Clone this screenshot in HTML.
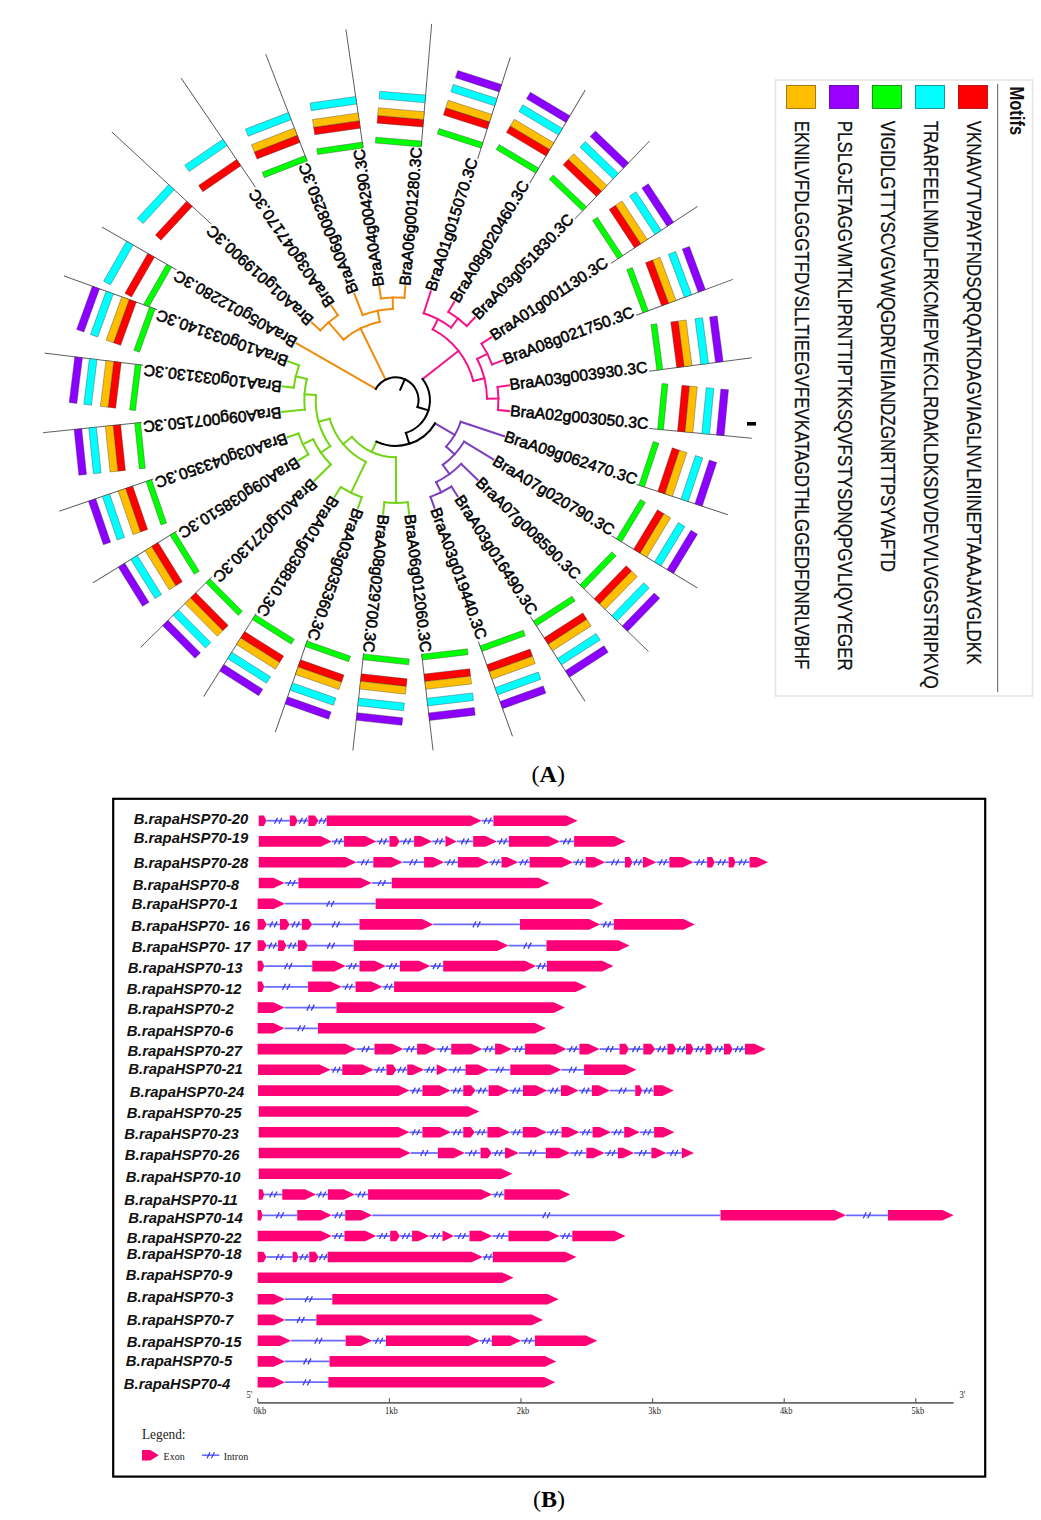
<!DOCTYPE html>
<html><head><meta charset="utf-8"><style>html,body{margin:0;padding:0;background:#fff;}svg{display:block;}</style></head><body>
<svg width="1041" height="1520" viewBox="0 0 1041 1520">
<style>
.lb{font-family:"Liberation Sans",sans-serif;font-size:15.8px;fill:#000;stroke:#000;stroke-width:0.55px;}
.ln{stroke:#555;stroke-width:0.9;}
.bx{stroke:#333;stroke-width:0.5;stroke-opacity:0.7;}
.lgt{font-family:"Liberation Sans",sans-serif;font-size:21px;font-weight:bold;fill:#111;}
.lgx{font-family:"Liberation Sans",sans-serif;font-size:20.8px;fill:#111;stroke:#111;stroke-width:0.25px;}
.tr line,.tr path{stroke-width:2;stroke-linecap:square;}
</style>
<rect width="1041" height="1520" fill="#fff"/>
<g class="tr"><line x1="375.89" y1="388.84" x2="296.64" y2="343.38" stroke="#f08c0c"/><line x1="385.65" y1="379.69" x2="360.54" y2="328.41" stroke="#f08c0c"/><path d="M343.53,339.63 A79.94,79.94 0 0 1 379.82,321.85" stroke="#f08c0c" fill="none"/><line x1="343.53" y1="339.63" x2="328.63" y2="322.32" stroke="#f08c0c"/><path d="M320.28,330.38 A102.78,102.78 0 0 1 337.84,315.25" stroke="#f08c0c" fill="none"/><line x1="320.28" y1="330.38" x2="311.89" y2="322.62" stroke="#f08c0c"/><line x1="337.84" y1="315.25" x2="331.41" y2="305.81" stroke="#f08c0c"/><line x1="379.82" y1="321.85" x2="377.55" y2="310.66" stroke="#f08c0c"/><path d="M362.65,315.03 A91.36,91.36 0 0 1 392.98,308.88" stroke="#f08c0c" fill="none"/><line x1="362.65" y1="315.03" x2="354.38" y2="293.74" stroke="#f08c0c"/><line x1="392.98" y1="308.88" x2="392.64" y2="297.47" stroke="#f08c0c"/><path d="M380.93,298.49 A102.78,102.78 0 0 1 404.39,297.79" stroke="#f08c0c" fill="none"/><line x1="380.93" y1="298.49" x2="379.29" y2="287.18" stroke="#f08c0c"/><line x1="404.39" y1="297.79" x2="405.36" y2="286.41" stroke="#f08c0c"/><line x1="422.63" y1="379.03" x2="458.54" y2="350.79" stroke="#f5158a"/><path d="M432.70,329.34 A79.94,79.94 0 0 1 473.29,380.97" stroke="#f5158a" fill="none"/><line x1="432.70" y1="329.34" x2="437.98" y2="319.21" stroke="#f5158a"/><path d="M423.70,313.24 A91.36,91.36 0 0 1 451.04,327.51" stroke="#f5158a" fill="none"/><line x1="423.70" y1="313.24" x2="430.71" y2="291.50" stroke="#f5158a"/><line x1="451.04" y1="327.51" x2="457.96" y2="318.42" stroke="#f5158a"/><path d="M448.33,311.92 A102.78,102.78 0 0 1 466.80,325.98" stroke="#f5158a" fill="none"/><line x1="448.33" y1="311.92" x2="454.18" y2="302.11" stroke="#f5158a"/><line x1="466.80" y1="325.98" x2="474.70" y2="317.73" stroke="#f5158a"/><line x1="473.29" y1="380.97" x2="484.38" y2="378.23" stroke="#f5158a"/><path d="M477.21,358.94 A91.36,91.36 0 0 1 487.05,398.63" stroke="#f5158a" fill="none"/><line x1="477.21" y1="358.94" x2="487.40" y2="353.78" stroke="#f5158a"/><path d="M481.56,343.71 A102.78,102.78 0 0 1 492.06,364.44" stroke="#f5158a" fill="none"/><line x1="481.56" y1="343.71" x2="491.11" y2="337.43" stroke="#f5158a"/><line x1="492.06" y1="364.44" x2="502.77" y2="360.47" stroke="#f5158a"/><line x1="487.05" y1="398.63" x2="498.46" y2="398.43" stroke="#f5158a"/><path d="M497.62,386.91 A102.78,102.78 0 0 1 498.01,409.98" stroke="#f5158a" fill="none"/><line x1="497.62" y1="386.91" x2="508.94" y2="385.43" stroke="#f5158a"/><line x1="498.01" y1="409.98" x2="509.38" y2="411.07" stroke="#f5158a"/><line x1="435.07" y1="423.37" x2="454.75" y2="434.96" stroke="#7a3fbd"/><path d="M460.73,421.79 A68.52,68.52 0 0 1 446.15,446.57" stroke="#7a3fbd" fill="none"/><line x1="460.73" y1="421.79" x2="504.08" y2="436.19" stroke="#7a3fbd"/><line x1="446.15" y1="446.57" x2="454.55" y2="454.30" stroke="#7a3fbd"/><path d="M464.05,441.66 A79.94,79.94 0 0 1 442.76,464.82" stroke="#7a3fbd" fill="none"/><line x1="464.05" y1="441.66" x2="493.34" y2="459.43" stroke="#7a3fbd"/><line x1="442.76" y1="464.82" x2="449.48" y2="474.06" stroke="#7a3fbd"/><path d="M461.21,463.88 A91.36,91.36 0 0 1 436.19,482.10" stroke="#7a3fbd" fill="none"/><line x1="461.21" y1="463.88" x2="477.59" y2="479.80" stroke="#7a3fbd"/><line x1="436.19" y1="482.10" x2="441.25" y2="492.33" stroke="#7a3fbd"/><path d="M451.39,486.58 A102.78,102.78 0 0 1 430.53,496.90" stroke="#7a3fbd" fill="none"/><line x1="451.39" y1="486.58" x2="457.58" y2="496.18" stroke="#7a3fbd"/><line x1="430.53" y1="496.90" x2="434.40" y2="507.64" stroke="#7a3fbd"/><line x1="376.44" y1="441.62" x2="371.63" y2="451.98" stroke="#72d414"/><path d="M395.91,457.30 A57.10,57.10 0 0 1 351.91,436.85" stroke="#72d414" fill="none"/><line x1="395.91" y1="457.30" x2="396.08" y2="502.98" stroke="#72d414"/><path d="M407.76,502.27 A102.78,102.78 0 0 1 384.39,502.36" stroke="#72d414" fill="none"/><line x1="407.76" y1="502.27" x2="409.10" y2="513.61" stroke="#72d414"/><line x1="384.39" y1="502.36" x2="383.13" y2="513.71" stroke="#72d414"/><line x1="351.91" y1="436.85" x2="343.15" y2="444.18" stroke="#72d414"/><path d="M365.89,461.90 A68.52,68.52 0 0 1 329.72,418.67" stroke="#72d414" fill="none"/><line x1="365.89" y1="461.90" x2="350.98" y2="492.74" stroke="#72d414"/><path d="M361.75,497.21 A102.78,102.78 0 0 1 340.79,487.09" stroke="#72d414" fill="none"/><line x1="361.75" y1="497.21" x2="357.97" y2="507.99" stroke="#72d414"/><line x1="340.79" y1="487.09" x2="334.69" y2="496.74" stroke="#72d414"/><line x1="329.72" y1="418.67" x2="318.72" y2="421.75" stroke="#72d414"/><path d="M330.26,446.11 A79.94,79.94 0 0 1 315.93,394.95" stroke="#72d414" fill="none"/><line x1="330.26" y1="446.11" x2="320.91" y2="452.66" stroke="#72d414"/><path d="M330.83,464.53 A91.36,91.36 0 0 1 313.13,439.29" stroke="#72d414" fill="none"/><line x1="330.83" y1="464.53" x2="314.61" y2="480.61" stroke="#72d414"/><line x1="313.13" y1="439.29" x2="302.81" y2="444.18" stroke="#72d414"/><path d="M308.31,454.30 A102.78,102.78 0 0 1 298.47,433.51" stroke="#72d414" fill="none"/><line x1="308.31" y1="454.30" x2="298.60" y2="460.31" stroke="#72d414"/><line x1="298.47" y1="433.51" x2="287.66" y2="437.21" stroke="#72d414"/><line x1="315.93" y1="394.95" x2="304.54" y2="394.20" stroke="#72d414"/><path d="M304.83,409.61 A91.36,91.36 0 0 1 306.84,378.97" stroke="#72d414" fill="none"/><line x1="304.83" y1="409.61" x2="282.11" y2="411.96" stroke="#72d414"/><line x1="306.84" y1="378.97" x2="295.73" y2="376.31" stroke="#72d414"/><path d="M293.68,387.69 A102.78,102.78 0 0 1 299.05,365.23" stroke="#72d414" fill="none"/><line x1="293.68" y1="387.69" x2="282.35" y2="386.30" stroke="#72d414"/><line x1="299.05" y1="365.23" x2="288.31" y2="361.35" stroke="#72d414"/><line x1="400.26" y1="389.73" x2="404.83" y2="379.26" stroke="#000"/><path d="M375.89,388.84 A22.84,22.84 0 0 1 417.51,406.98" stroke="#000" fill="none"/><line x1="417.51" y1="406.98" x2="428.42" y2="410.37" stroke="#000"/><path d="M422.63,379.03 A34.26,34.26 0 0 1 405.88,432.91" stroke="#000" fill="none"/><line x1="405.88" y1="432.91" x2="409.28" y2="443.81" stroke="#000"/><path d="M435.07,423.37 A45.68,45.68 0 0 1 376.44,441.62" stroke="#000" fill="none"/></g>
<g transform="translate(395.7,400.2) rotate(-85.15)"><text x="115.0" y="4.8" class="lb">BraA06g001280.3C</text><line x1="255.0" y1="4.0" x2="378.0" y2="4.0" class="ln"/><rect x="254.50" y="-42.00" width="5.90" height="46.0" fill="#00ff00" class="bx"/><rect x="274.50" y="-42.00" width="7.60" height="46.0" fill="#ff0000" class="bx"/><rect x="282.10" y="-42.00" width="7.80" height="46.0" fill="#ffbf00" class="bx"/><rect x="298.90" y="-42.00" width="7.70" height="46.0" fill="#00ffff" class="bx"/></g><g transform="translate(395.7,400.2) rotate(-72.15)"><text x="115.0" y="4.8" class="lb">BraA01g015070.3C</text><line x1="255.0" y1="4.0" x2="361.4" y2="4.0" class="ln"/><rect x="266.10" y="-42.00" width="5.90" height="46.0" fill="#00ff00" class="bx"/><rect x="286.10" y="-42.00" width="7.60" height="46.0" fill="#ff0000" class="bx"/><rect x="293.70" y="-42.00" width="7.80" height="46.0" fill="#ffbf00" class="bx"/><rect x="310.50" y="-42.00" width="7.70" height="46.0" fill="#00ffff" class="bx"/><rect x="325.20" y="-42.00" width="7.70" height="46.0" fill="#8c00ff" class="bx"/></g><g transform="translate(395.7,400.2) rotate(-59.20)"><text x="115.0" y="4.8" class="lb">BraA08g020460.3C</text><line x1="255.0" y1="4.0" x2="363.5" y2="4.0" class="ln"/><rect x="266.70" y="-42.00" width="5.90" height="46.0" fill="#00ff00" class="bx"/><rect x="286.70" y="-42.00" width="7.60" height="46.0" fill="#ff0000" class="bx"/><rect x="294.30" y="-42.00" width="7.80" height="46.0" fill="#ffbf00" class="bx"/><rect x="311.10" y="-42.00" width="7.70" height="46.0" fill="#00ffff" class="bx"/><rect x="325.80" y="-42.00" width="7.70" height="46.0" fill="#8c00ff" class="bx"/></g><g transform="translate(395.7,400.2) rotate(-46.23)"><text x="115.0" y="4.8" class="lb">BraA03g051830.3C</text><line x1="255.0" y1="4.0" x2="362.9" y2="4.0" class="ln"/><rect x="265.80" y="-42.00" width="5.90" height="46.0" fill="#00ff00" class="bx"/><rect x="285.80" y="-42.00" width="7.60" height="46.0" fill="#ff0000" class="bx"/><rect x="293.40" y="-42.00" width="7.80" height="46.0" fill="#ffbf00" class="bx"/><rect x="310.20" y="-42.00" width="7.70" height="46.0" fill="#00ffff" class="bx"/><rect x="324.90" y="-42.00" width="7.70" height="46.0" fill="#8c00ff" class="bx"/></g><g transform="translate(395.7,400.2) rotate(-33.34)"><text x="115.0" y="4.8" class="lb">BraA01g001130.3C</text><line x1="255.0" y1="4.0" x2="358.7" y2="4.0" class="ln"/><rect x="263.20" y="-42.00" width="5.90" height="46.0" fill="#00ff00" class="bx"/><rect x="283.20" y="-42.00" width="7.60" height="46.0" fill="#ff0000" class="bx"/><rect x="290.80" y="-42.00" width="7.80" height="46.0" fill="#ffbf00" class="bx"/><rect x="307.60" y="-42.00" width="7.70" height="46.0" fill="#00ffff" class="bx"/><rect x="322.30" y="-42.00" width="7.70" height="46.0" fill="#8c00ff" class="bx"/></g><g transform="translate(395.7,400.2) rotate(-20.36)"><text x="115.0" y="4.8" class="lb">BraA08g021750.3C</text><line x1="255.0" y1="4.0" x2="358.2" y2="4.0" class="ln"/><rect x="262.10" y="-42.00" width="5.90" height="46.0" fill="#00ff00" class="bx"/><rect x="282.10" y="-42.00" width="7.60" height="46.0" fill="#ff0000" class="bx"/><rect x="289.70" y="-42.00" width="7.80" height="46.0" fill="#ffbf00" class="bx"/><rect x="306.50" y="-42.00" width="7.70" height="46.0" fill="#00ffff" class="bx"/><rect x="321.20" y="-42.00" width="7.70" height="46.0" fill="#8c00ff" class="bx"/></g><g transform="translate(395.7,400.2) rotate(-7.43)"><text x="115.0" y="4.8" class="lb">BraA03g003930.3C</text><line x1="255.0" y1="4.0" x2="358.5" y2="4.0" class="ln"/><rect x="262.90" y="-42.00" width="5.90" height="46.0" fill="#00ff00" class="bx"/><rect x="282.90" y="-42.00" width="7.60" height="46.0" fill="#ff0000" class="bx"/><rect x="290.50" y="-42.00" width="7.80" height="46.0" fill="#ffbf00" class="bx"/><rect x="307.30" y="-42.00" width="7.70" height="46.0" fill="#00ffff" class="bx"/><rect x="322.00" y="-42.00" width="7.70" height="46.0" fill="#8c00ff" class="bx"/></g><g transform="translate(395.7,400.2) rotate(5.46)"><text x="115.0" y="4.8" class="lb">BraA02g003050.3C</text><line x1="255.0" y1="4.0" x2="358.1" y2="4.0" class="ln"/><rect x="263.50" y="-42.00" width="5.90" height="46.0" fill="#00ff00" class="bx"/><rect x="283.50" y="-42.00" width="7.60" height="46.0" fill="#ff0000" class="bx"/><rect x="291.10" y="-42.00" width="7.80" height="46.0" fill="#ffbf00" class="bx"/><rect x="307.90" y="-42.00" width="7.70" height="46.0" fill="#00ffff" class="bx"/><rect x="322.60" y="-42.00" width="7.70" height="46.0" fill="#8c00ff" class="bx"/></g><g transform="translate(395.7,400.2) rotate(18.37)"><text x="115.0" y="4.8" class="lb">BraA09g062470.3C</text><line x1="255.0" y1="4.0" x2="351.5" y2="4.0" class="ln"/><rect x="257.50" y="-42.00" width="5.90" height="46.0" fill="#00ff00" class="bx"/><rect x="277.50" y="-42.00" width="7.60" height="46.0" fill="#ff0000" class="bx"/><rect x="285.10" y="-42.00" width="7.80" height="46.0" fill="#ffbf00" class="bx"/><rect x="301.90" y="-42.00" width="7.70" height="46.0" fill="#00ffff" class="bx"/><rect x="316.60" y="-42.00" width="7.70" height="46.0" fill="#8c00ff" class="bx"/></g><g transform="translate(395.7,400.2) rotate(31.24)"><text x="115.0" y="4.8" class="lb">BraA07g020790.3C</text><line x1="255.0" y1="4.0" x2="355.1" y2="4.0" class="ln"/><rect x="260.70" y="-42.00" width="5.90" height="46.0" fill="#00ff00" class="bx"/><rect x="280.70" y="-42.00" width="7.60" height="46.0" fill="#ff0000" class="bx"/><rect x="288.30" y="-42.00" width="7.80" height="46.0" fill="#ffbf00" class="bx"/><rect x="305.10" y="-42.00" width="7.70" height="46.0" fill="#00ffff" class="bx"/><rect x="319.80" y="-42.00" width="7.70" height="46.0" fill="#8c00ff" class="bx"/></g><g transform="translate(395.7,400.2) rotate(44.19)"><text x="115.0" y="4.8" class="lb">BraA07g008590.3C</text><line x1="255.0" y1="4.0" x2="356.4" y2="4.0" class="ln"/><rect x="260.70" y="-42.00" width="5.90" height="46.0" fill="#00ff00" class="bx"/><rect x="280.70" y="-42.00" width="7.60" height="46.0" fill="#ff0000" class="bx"/><rect x="288.30" y="-42.00" width="7.80" height="46.0" fill="#ffbf00" class="bx"/><rect x="305.10" y="-42.00" width="7.70" height="46.0" fill="#00ffff" class="bx"/><rect x="319.80" y="-42.00" width="7.70" height="46.0" fill="#8c00ff" class="bx"/></g><g transform="translate(395.7,400.2) rotate(57.19)"><text x="115.0" y="4.8" class="lb">BraA03g016490.3C</text><line x1="255.0" y1="4.0" x2="355.6" y2="4.0" class="ln"/><rect x="260.20" y="-42.00" width="5.90" height="46.0" fill="#00ff00" class="bx"/><rect x="280.20" y="-42.00" width="7.60" height="46.0" fill="#ff0000" class="bx"/><rect x="287.80" y="-42.00" width="7.80" height="46.0" fill="#ffbf00" class="bx"/><rect x="304.60" y="-42.00" width="7.70" height="46.0" fill="#00ffff" class="bx"/><rect x="319.30" y="-42.00" width="7.70" height="46.0" fill="#8c00ff" class="bx"/></g><g transform="translate(395.7,400.2) rotate(70.19)"><text x="115.0" y="4.8" class="lb">BraA03g019440.3C</text><line x1="255.0" y1="4.0" x2="355.8" y2="4.0" class="ln"/><rect x="259.70" y="-42.00" width="5.90" height="46.0" fill="#00ff00" class="bx"/><rect x="279.70" y="-42.00" width="7.60" height="46.0" fill="#ff0000" class="bx"/><rect x="287.30" y="-42.00" width="7.80" height="46.0" fill="#ffbf00" class="bx"/><rect x="304.10" y="-42.00" width="7.70" height="46.0" fill="#00ffff" class="bx"/><rect x="318.80" y="-42.00" width="7.70" height="46.0" fill="#8c00ff" class="bx"/></g><g transform="translate(395.7,400.2) rotate(83.26)"><text x="115.0" y="4.8" class="lb">BraA06g012060.3C</text><line x1="255.0" y1="4.0" x2="352.0" y2="4.0" class="ln"/><rect x="255.30" y="-42.00" width="5.90" height="46.0" fill="#00ff00" class="bx"/><rect x="275.30" y="-42.00" width="7.60" height="46.0" fill="#ff0000" class="bx"/><rect x="282.90" y="-42.00" width="7.80" height="46.0" fill="#ffbf00" class="bx"/><rect x="299.70" y="-42.00" width="7.70" height="46.0" fill="#00ffff" class="bx"/><rect x="314.40" y="-42.00" width="7.70" height="46.0" fill="#8c00ff" class="bx"/></g><g transform="translate(395.7,400.2) rotate(96.32)"><text x="115.0" y="4.8" class="lb">BraA08g029700.3C</text><line x1="255.0" y1="4.0" x2="352.9" y2="4.0" class="ln"/><rect x="255.70" y="-42.00" width="5.90" height="46.0" fill="#00ff00" class="bx"/><rect x="275.70" y="-42.00" width="7.60" height="46.0" fill="#ff0000" class="bx"/><rect x="283.30" y="-42.00" width="7.80" height="46.0" fill="#ffbf00" class="bx"/><rect x="300.10" y="-42.00" width="7.70" height="46.0" fill="#00ffff" class="bx"/><rect x="314.80" y="-42.00" width="7.70" height="46.0" fill="#8c00ff" class="bx"/></g><g transform="translate(395.7,400.2) rotate(109.29)"><text x="115.0" y="4.8" class="lb">BraA03g035360.3C</text><line x1="255.0" y1="4.0" x2="352.9" y2="4.0" class="ln"/><rect x="256.50" y="-42.00" width="5.90" height="46.0" fill="#00ff00" class="bx"/><rect x="276.50" y="-42.00" width="7.60" height="46.0" fill="#ff0000" class="bx"/><rect x="284.10" y="-42.00" width="7.80" height="46.0" fill="#ffbf00" class="bx"/><rect x="300.90" y="-42.00" width="7.70" height="46.0" fill="#00ffff" class="bx"/><rect x="315.60" y="-42.00" width="7.70" height="46.0" fill="#8c00ff" class="bx"/></g><g transform="translate(395.7,400.2) rotate(122.29)"><text x="115.0" y="4.8" class="lb">BraA01g038810.3C</text><line x1="255.0" y1="4.0" x2="353.1" y2="4.0" class="ln"/><rect x="256.20" y="-42.00" width="5.90" height="46.0" fill="#00ff00" class="bx"/><rect x="276.20" y="-42.00" width="7.60" height="46.0" fill="#ff0000" class="bx"/><rect x="283.80" y="-42.00" width="7.80" height="46.0" fill="#ffbf00" class="bx"/><rect x="300.60" y="-42.00" width="7.70" height="46.0" fill="#00ffff" class="bx"/><rect x="315.30" y="-42.00" width="7.70" height="46.0" fill="#8c00ff" class="bx"/></g><g transform="translate(395.7,400.2) rotate(135.24)"><text x="115.0" y="4.8" class="lb">BraA01g027130.3C</text><line x1="255.0" y1="4.0" x2="355.1" y2="4.0" class="ln"/><rect x="257.50" y="-42.00" width="5.90" height="46.0" fill="#00ff00" class="bx"/><rect x="277.50" y="-42.00" width="7.60" height="46.0" fill="#ff0000" class="bx"/><rect x="285.10" y="-42.00" width="7.80" height="46.0" fill="#ffbf00" class="bx"/><rect x="301.90" y="-42.00" width="7.70" height="46.0" fill="#00ffff" class="bx"/><rect x="316.60" y="-42.00" width="7.70" height="46.0" fill="#8c00ff" class="bx"/></g><g transform="translate(395.7,400.2) rotate(148.24)"><text x="115.0" y="4.8" class="lb">BraA09g038510.3C</text><line x1="255.0" y1="4.0" x2="353.7" y2="4.0" class="ln"/><rect x="257.00" y="-42.00" width="5.90" height="46.0" fill="#00ff00" class="bx"/><rect x="277.00" y="-42.00" width="7.60" height="46.0" fill="#ff0000" class="bx"/><rect x="284.60" y="-42.00" width="7.80" height="46.0" fill="#ffbf00" class="bx"/><rect x="301.40" y="-42.00" width="7.70" height="46.0" fill="#00ffff" class="bx"/><rect x="316.10" y="-42.00" width="7.70" height="46.0" fill="#8c00ff" class="bx"/></g><g transform="translate(395.7,400.2) rotate(161.09)"><text x="115.0" y="4.8" class="lb">BraA03g043350.3C</text><line x1="255.0" y1="4.0" x2="354.1" y2="4.0" class="ln"/><rect x="256.60" y="-42.00" width="5.90" height="46.0" fill="#00ff00" class="bx"/><rect x="276.60" y="-42.00" width="7.60" height="46.0" fill="#ff0000" class="bx"/><rect x="284.20" y="-42.00" width="7.80" height="46.0" fill="#ffbf00" class="bx"/><rect x="301.00" y="-42.00" width="7.70" height="46.0" fill="#00ffff" class="bx"/><rect x="315.70" y="-42.00" width="7.70" height="46.0" fill="#8c00ff" class="bx"/></g><g transform="translate(395.7,400.2) rotate(174.09)"><text x="115.0" y="4.8" class="lb">BraA09g007150.3C</text><line x1="255.0" y1="4.0" x2="354.1" y2="4.0" class="ln"/><rect x="256.10" y="-42.00" width="5.90" height="46.0" fill="#00ff00" class="bx"/><rect x="276.10" y="-42.00" width="7.60" height="46.0" fill="#ff0000" class="bx"/><rect x="283.70" y="-42.00" width="7.80" height="46.0" fill="#ffbf00" class="bx"/><rect x="300.50" y="-42.00" width="7.70" height="46.0" fill="#00ffff" class="bx"/><rect x="315.20" y="-42.00" width="7.70" height="46.0" fill="#8c00ff" class="bx"/></g><g transform="translate(395.7,400.2) rotate(186.99)"><text x="115.0" y="4.8" class="lb">BraA10g033130.3C</text><line x1="255.0" y1="4.0" x2="354.2" y2="4.0" class="ln"/><rect x="257.00" y="-42.00" width="5.90" height="46.0" fill="#00ff00" class="bx"/><rect x="277.00" y="-42.00" width="7.60" height="46.0" fill="#ff0000" class="bx"/><rect x="284.60" y="-42.00" width="7.80" height="46.0" fill="#ffbf00" class="bx"/><rect x="301.40" y="-42.00" width="7.70" height="46.0" fill="#00ffff" class="bx"/><rect x="316.10" y="-42.00" width="7.70" height="46.0" fill="#8c00ff" class="bx"/></g><g transform="translate(395.7,400.2) rotate(199.89)"><text x="115.0" y="4.8" class="lb">BraA10g033140.3C</text><line x1="255.0" y1="4.0" x2="354.2" y2="4.0" class="ln"/><rect x="257.30" y="-42.00" width="5.90" height="46.0" fill="#00ff00" class="bx"/><rect x="277.30" y="-42.00" width="7.60" height="46.0" fill="#ff0000" class="bx"/><rect x="284.90" y="-42.00" width="7.80" height="46.0" fill="#ffbf00" class="bx"/><rect x="301.70" y="-42.00" width="7.70" height="46.0" fill="#00ffff" class="bx"/><rect x="316.40" y="-42.00" width="7.70" height="46.0" fill="#8c00ff" class="bx"/></g><g transform="translate(395.7,400.2) rotate(209.84)"><text x="115.0" y="4.8" class="lb">BraA05g012280.3C</text><line x1="255.0" y1="4.0" x2="340.8" y2="4.0" class="ln"/><rect x="260.50" y="-42.00" width="5.90" height="46.0" fill="#00ff00" class="bx"/><rect x="280.50" y="-42.00" width="7.60" height="46.0" fill="#ff0000" class="bx"/><rect x="304.90" y="-42.00" width="7.70" height="46.0" fill="#00ffff" class="bx"/></g><g transform="translate(395.7,400.2) rotate(222.79)"><text x="115.0" y="4.8" class="lb">BraA01g019900.3C</text><line x1="255.0" y1="4.0" x2="390.5" y2="4.0" class="ln"/><rect x="281.00" y="-42.00" width="7.60" height="46.0" fill="#ff0000" class="bx"/><rect x="305.40" y="-42.00" width="7.70" height="46.0" fill="#00ffff" class="bx"/></g><g transform="translate(395.7,400.2) rotate(235.74)"><text x="115.0" y="4.8" class="lb">BraA03g047170.3C</text><line x1="255.0" y1="4.0" x2="387.0" y2="4.0" class="ln"/><rect x="280.90" y="-42.00" width="7.60" height="46.0" fill="#ff0000" class="bx"/><rect x="305.30" y="-42.00" width="7.70" height="46.0" fill="#00ffff" class="bx"/></g><g transform="translate(395.7,400.2) rotate(248.79)"><text x="115.0" y="4.8" class="lb">BraA06g008250.3C</text><line x1="255.0" y1="4.0" x2="369.6" y2="4.0" class="ln"/><rect x="255.00" y="-42.00" width="5.90" height="46.0" fill="#00ff00" class="bx"/><rect x="275.00" y="-42.00" width="7.60" height="46.0" fill="#ff0000" class="bx"/><rect x="282.60" y="-42.00" width="7.80" height="46.0" fill="#ffbf00" class="bx"/><rect x="299.40" y="-42.00" width="7.70" height="46.0" fill="#00ffff" class="bx"/></g><g transform="translate(395.7,400.2) rotate(261.74)"><text x="115.0" y="4.8" class="lb">BraA04g004290.3C</text><line x1="255.0" y1="4.0" x2="374.0" y2="4.0" class="ln"/><rect x="254.30" y="-42.00" width="5.90" height="46.0" fill="#00ff00" class="bx"/><rect x="274.30" y="-42.00" width="7.60" height="46.0" fill="#ff0000" class="bx"/><rect x="281.90" y="-42.00" width="7.80" height="46.0" fill="#ffbf00" class="bx"/><rect x="298.70" y="-42.00" width="7.70" height="46.0" fill="#00ffff" class="bx"/></g>
<rect x="747" y="422" width="9" height="3.6" fill="#000"/>
<rect x="775.5" y="80" width="257" height="616" fill="#fff" stroke="#e4e4e4" stroke-width="1.5"/><line x1="997.6" y1="84" x2="997.6" y2="692" stroke="#777" stroke-width="1.2"/><text transform="translate(1009.5,86.4) scale(1,0.79) rotate(90)" class="lgt">Motifs</text><rect x="958.4" y="85.4" width="29" height="23" fill="#ff0000" stroke="#a00000" stroke-width="0.8"/><text transform="translate(966.5,120.7) scale(1,0.816) rotate(90)" class="lgx">VKNAVVTVPAYFNDSQRQATKDAGVIAGLNVLRIINEPTAAAJAYGLDKK</text><rect x="915.4" y="85.4" width="29" height="23" fill="#00ffff" stroke="#008080" stroke-width="0.8"/><text transform="translate(923.5,120.7) scale(1,0.816) rotate(90)" class="lgx">TRARFEELNMDLFRKCMEPVEKCLRDAKLDKSDVDEVVLVGGSTRIPKVQ</text><rect x="872.4" y="85.4" width="29" height="23" fill="#00ff00" stroke="#008000" stroke-width="0.8"/><text transform="translate(880.5,120.7) scale(1,0.816) rotate(90)" class="lgx">VIGIDLGTTYSCVGVWQGDRVEIIANDZGNRTTPSYVAFTD</text><rect x="829.4" y="85.4" width="29" height="23" fill="#9900ff" stroke="#500090" stroke-width="0.8"/><text transform="translate(837.5,120.7) scale(1,0.816) rotate(90)" class="lgx">PLSLGJETAGGVMTKLIPRNTTIPTKKSQVFSTYSDNQPGVLIQVYEGER</text><rect x="786.4" y="85.4" width="29" height="23" fill="#ffbf00" stroke="#906000" stroke-width="0.8"/><text transform="translate(794.5,120.7) scale(1,0.816) rotate(90)" class="lgx">EKNILVFDLGGGTFDVSLLTIEEGVFEVKATAGDTHLGGEDFDNRLVBHF</text>
<text x="531.6" y="782.3" font-family="Liberation Serif" font-size="24" fill="#000">(<tspan font-weight="bold">A</tspan>)</text>
<rect x="113.2" y="798.8" width="872" height="677.8" fill="none" stroke="#000" stroke-width="2.2"/><g stroke="#6b6bff" stroke-width="1.8"><line x1="266.60" y1="820.70" x2="289.88" y2="820.70"/><line x1="297.72" y1="820.70" x2="308.33" y2="820.70"/><line x1="318.47" y1="820.70" x2="326.77" y2="820.70"/><line x1="481.70" y1="820.70" x2="493.46" y2="820.70"/><line x1="331.84" y1="841.40" x2="344.06" y2="841.40"/><line x1="376.34" y1="841.40" x2="389.48" y2="841.40"/><line x1="399.86" y1="841.40" x2="414.15" y2="841.40"/><line x1="432.13" y1="841.40" x2="445.50" y2="841.40"/><line x1="456.80" y1="841.40" x2="473.17" y2="841.40"/><line x1="496.92" y1="841.40" x2="508.90" y2="841.40"/><line x1="559.86" y1="841.40" x2="574.15" y2="841.40"/><line x1="356.51" y1="862.20" x2="373.34" y2="862.20"/><line x1="402.62" y1="862.20" x2="424.06" y2="862.20"/><line x1="444.12" y1="862.20" x2="457.95" y2="862.20"/><line x1="489.31" y1="862.20" x2="501.53" y2="862.20"/><line x1="518.13" y1="862.20" x2="529.65" y2="862.20"/><line x1="573.00" y1="862.20" x2="585.68" y2="862.20"/><line x1="605.27" y1="862.20" x2="624.87" y2="862.20"/><line x1="632.48" y1="862.20" x2="642.85" y2="862.20"/><line x1="656.46" y1="862.20" x2="669.37" y2="862.20"/><line x1="693.57" y1="862.20" x2="707.18" y2="862.20"/><line x1="714.78" y1="862.20" x2="728.62" y2="862.20"/><line x1="735.76" y1="862.20" x2="749.60" y2="862.20"/><line x1="284.58" y1="883.00" x2="298.41" y2="883.00"/><line x1="371.73" y1="883.00" x2="391.79" y2="883.00"/><line x1="285.04" y1="903.70" x2="375.65" y2="903.70"/><line x1="266.83" y1="924.40" x2="279.97" y2="924.40"/><line x1="289.65" y1="924.40" x2="301.87" y2="924.40"/><line x1="312.25" y1="924.40" x2="359.51" y2="924.40"/><line x1="433.29" y1="924.40" x2="519.97" y2="924.40"/><line x1="600.20" y1="924.40" x2="613.80" y2="924.40"/><line x1="266.83" y1="945.60" x2="278.13" y2="945.60"/><line x1="286.43" y1="945.60" x2="297.95" y2="945.60"/><line x1="308.10" y1="945.60" x2="353.75" y2="945.60"/><line x1="508.44" y1="945.60" x2="546.48" y2="945.60"/><line x1="264.29" y1="966.10" x2="312.25" y2="966.10"/><line x1="345.68" y1="966.10" x2="359.51" y2="966.10"/><line x1="386.02" y1="966.10" x2="399.86" y2="966.10"/><line x1="430.29" y1="966.10" x2="443.20" y2="966.10"/><line x1="536.11" y1="966.10" x2="546.95" y2="966.10"/><line x1="264.29" y1="986.80" x2="308.10" y2="986.80"/><line x1="341.76" y1="986.80" x2="355.59" y2="986.80"/><line x1="382.56" y1="986.80" x2="394.09" y2="986.80"/><line x1="284.58" y1="1007.60" x2="336.46" y2="1007.60"/><line x1="284.58" y1="1028.30" x2="318.01" y2="1028.30"/><line x1="356.51" y1="1049.10" x2="374.50" y2="1049.10"/><line x1="403.31" y1="1049.10" x2="417.15" y2="1049.10"/><line x1="436.74" y1="1049.10" x2="451.27" y2="1049.10"/><line x1="482.39" y1="1049.10" x2="495.07" y2="1049.10"/><line x1="511.90" y1="1049.10" x2="525.04" y2="1049.10"/><line x1="566.54" y1="1049.10" x2="579.45" y2="1049.10"/><line x1="599.51" y1="1049.10" x2="619.57" y2="1049.10"/><line x1="629.02" y1="1049.10" x2="643.31" y2="1049.10"/><line x1="655.30" y1="1049.10" x2="667.52" y2="1049.10"/><line x1="676.28" y1="1049.10" x2="685.97" y2="1049.10"/><line x1="693.57" y1="1049.10" x2="705.56" y2="1049.10"/><line x1="713.17" y1="1049.10" x2="724.01" y2="1049.10"/><line x1="732.77" y1="1049.10" x2="744.99" y2="1049.10"/><line x1="330.69" y1="1069.80" x2="342.22" y2="1069.80"/><line x1="373.80" y1="1069.80" x2="386.48" y2="1069.80"/><line x1="396.40" y1="1069.80" x2="407.23" y2="1069.80"/><line x1="424.06" y1="1069.80" x2="436.74" y2="1069.80"/><line x1="448.27" y1="1069.80" x2="465.56" y2="1069.80"/><line x1="489.31" y1="1069.80" x2="510.29" y2="1069.80"/><line x1="561.47" y1="1069.80" x2="584.06" y2="1069.80"/><line x1="409.54" y1="1090.60" x2="422.45" y2="1090.60"/><line x1="450.58" y1="1090.60" x2="463.26" y2="1090.60"/><line x1="475.48" y1="1090.60" x2="488.62" y2="1090.60"/><line x1="509.60" y1="1090.60" x2="522.97" y2="1090.60"/><line x1="547.18" y1="1090.60" x2="561.01" y2="1090.60"/><line x1="578.76" y1="1090.60" x2="591.90" y2="1090.60"/><line x1="609.88" y1="1090.60" x2="635.24" y2="1090.60"/><line x1="642.16" y1="1090.60" x2="653.69" y2="1090.60"/><line x1="409.54" y1="1132.30" x2="422.45" y2="1132.30"/><line x1="451.04" y1="1132.30" x2="463.26" y2="1132.30"/><line x1="474.78" y1="1132.30" x2="487.46" y2="1132.30"/><line x1="510.29" y1="1132.30" x2="522.74" y2="1132.30"/><line x1="546.95" y1="1132.30" x2="561.47" y2="1132.30"/><line x1="579.45" y1="1132.30" x2="592.59" y2="1132.30"/><line x1="611.04" y1="1132.30" x2="624.18" y2="1132.30"/><line x1="639.86" y1="1132.30" x2="654.15" y2="1132.30"/><line x1="410.69" y1="1153.00" x2="437.90" y2="1153.00"/><line x1="464.87" y1="1153.00" x2="480.55" y2="1153.00"/><line x1="491.84" y1="1153.00" x2="504.99" y2="1153.00"/><line x1="518.82" y1="1153.00" x2="545.79" y2="1153.00"/><line x1="570.23" y1="1153.00" x2="586.37" y2="1153.00"/><line x1="604.58" y1="1153.00" x2="617.95" y2="1153.00"/><line x1="634.09" y1="1153.00" x2="651.38" y2="1153.00"/><line x1="666.37" y1="1153.00" x2="681.82" y2="1153.00"/><line x1="264.29" y1="1194.50" x2="282.28" y2="1194.50"/><line x1="316.17" y1="1194.50" x2="327.93" y2="1194.50"/><line x1="354.90" y1="1194.50" x2="368.04" y2="1194.50"/><line x1="492.31" y1="1194.50" x2="504.29" y2="1194.50"/><line x1="262.68" y1="1215.30" x2="297.26" y2="1215.30"/><line x1="331.84" y1="1215.30" x2="345.22" y2="1215.30"/><line x1="372.19" y1="1215.30" x2="720.55" y2="1215.30"/><line x1="845.97" y1="1215.30" x2="887.93" y2="1215.30"/><line x1="331.84" y1="1236.00" x2="344.52" y2="1236.00"/><line x1="376.34" y1="1236.00" x2="390.17" y2="1236.00"/><line x1="399.86" y1="1236.00" x2="412.07" y2="1236.00"/><line x1="429.37" y1="1236.00" x2="442.51" y2="1236.00"/><line x1="454.03" y1="1236.00" x2="469.48" y2="1236.00"/><line x1="492.31" y1="1236.00" x2="508.44" y2="1236.00"/><line x1="559.63" y1="1236.00" x2="572.31" y2="1236.00"/><line x1="266.60" y1="1257.00" x2="292.65" y2="1257.00"/><line x1="298.41" y1="1257.00" x2="309.25" y2="1257.00"/><line x1="318.70" y1="1257.00" x2="327.69" y2="1257.00"/><line x1="482.85" y1="1257.00" x2="492.77" y2="1257.00"/><line x1="285.04" y1="1299.20" x2="332.31" y2="1299.20"/><line x1="285.04" y1="1319.90" x2="316.40" y2="1319.90"/><line x1="291.04" y1="1340.70" x2="345.68" y2="1340.70"/><line x1="372.19" y1="1340.70" x2="386.02" y2="1340.70"/><line x1="480.09" y1="1340.70" x2="491.84" y2="1340.70"/><line x1="521.12" y1="1340.70" x2="534.96" y2="1340.70"/><line x1="285.04" y1="1361.40" x2="329.54" y2="1361.40"/><line x1="285.04" y1="1382.20" x2="328.39" y2="1382.20"/></g><g stroke="#3a3af0" stroke-width="1.3"><line x1="274.54" y1="823.70" x2="277.54" y2="817.70"/><line x1="278.94" y1="823.70" x2="281.94" y2="817.70"/><line x1="299.33" y1="823.70" x2="302.33" y2="817.70"/><line x1="303.73" y1="823.70" x2="306.73" y2="817.70"/><line x1="318.92" y1="823.70" x2="321.92" y2="817.70"/><line x1="323.32" y1="823.70" x2="326.32" y2="817.70"/><line x1="483.88" y1="823.70" x2="486.88" y2="817.70"/><line x1="488.28" y1="823.70" x2="491.28" y2="817.70"/><line x1="334.25" y1="844.40" x2="337.25" y2="838.40"/><line x1="338.65" y1="844.40" x2="341.65" y2="838.40"/><line x1="379.21" y1="844.40" x2="382.21" y2="838.40"/><line x1="383.61" y1="844.40" x2="386.61" y2="838.40"/><line x1="403.30" y1="844.40" x2="406.30" y2="838.40"/><line x1="407.70" y1="844.40" x2="410.70" y2="838.40"/><line x1="435.12" y1="844.40" x2="438.12" y2="838.40"/><line x1="439.52" y1="844.40" x2="442.52" y2="838.40"/><line x1="461.29" y1="844.40" x2="464.29" y2="838.40"/><line x1="465.69" y1="844.40" x2="468.69" y2="838.40"/><line x1="499.21" y1="844.40" x2="502.21" y2="838.40"/><line x1="503.61" y1="844.40" x2="506.61" y2="838.40"/><line x1="563.30" y1="844.40" x2="566.30" y2="838.40"/><line x1="567.70" y1="844.40" x2="570.70" y2="838.40"/><line x1="361.23" y1="865.20" x2="364.23" y2="859.20"/><line x1="365.63" y1="865.20" x2="368.63" y2="859.20"/><line x1="409.64" y1="865.20" x2="412.64" y2="859.20"/><line x1="414.04" y1="865.20" x2="417.04" y2="859.20"/><line x1="447.34" y1="865.20" x2="450.34" y2="859.20"/><line x1="451.74" y1="865.20" x2="454.74" y2="859.20"/><line x1="491.72" y1="865.20" x2="494.72" y2="859.20"/><line x1="496.12" y1="865.20" x2="499.12" y2="859.20"/><line x1="520.19" y1="865.20" x2="523.19" y2="859.20"/><line x1="524.59" y1="865.20" x2="527.59" y2="859.20"/><line x1="575.64" y1="865.20" x2="578.64" y2="859.20"/><line x1="580.04" y1="865.20" x2="583.04" y2="859.20"/><line x1="611.37" y1="865.20" x2="614.37" y2="859.20"/><line x1="615.77" y1="865.20" x2="618.77" y2="859.20"/><line x1="633.97" y1="865.20" x2="636.97" y2="859.20"/><line x1="638.37" y1="865.20" x2="641.37" y2="859.20"/><line x1="659.21" y1="865.20" x2="662.21" y2="859.20"/><line x1="663.61" y1="865.20" x2="666.61" y2="859.20"/><line x1="696.67" y1="865.20" x2="699.67" y2="859.20"/><line x1="701.07" y1="865.20" x2="704.07" y2="859.20"/><line x1="718.00" y1="865.20" x2="721.00" y2="859.20"/><line x1="722.40" y1="865.20" x2="725.40" y2="859.20"/><line x1="738.98" y1="865.20" x2="741.98" y2="859.20"/><line x1="743.38" y1="865.20" x2="746.38" y2="859.20"/><line x1="287.80" y1="886.00" x2="290.80" y2="880.00"/><line x1="292.20" y1="886.00" x2="295.20" y2="880.00"/><line x1="378.06" y1="886.00" x2="381.06" y2="880.00"/><line x1="382.46" y1="886.00" x2="385.46" y2="880.00"/><line x1="326.65" y1="906.70" x2="329.65" y2="900.70"/><line x1="331.05" y1="906.70" x2="334.05" y2="900.70"/><line x1="269.70" y1="927.40" x2="272.70" y2="921.40"/><line x1="274.10" y1="927.40" x2="277.10" y2="921.40"/><line x1="292.06" y1="927.40" x2="295.06" y2="921.40"/><line x1="296.46" y1="927.40" x2="299.46" y2="921.40"/><line x1="332.18" y1="927.40" x2="335.18" y2="921.40"/><line x1="336.58" y1="927.40" x2="339.58" y2="921.40"/><line x1="472.93" y1="927.40" x2="475.93" y2="921.40"/><line x1="477.33" y1="927.40" x2="480.33" y2="921.40"/><line x1="603.30" y1="927.40" x2="606.30" y2="921.40"/><line x1="607.70" y1="927.40" x2="610.70" y2="921.40"/><line x1="268.78" y1="948.60" x2="271.78" y2="942.60"/><line x1="273.18" y1="948.60" x2="276.18" y2="942.60"/><line x1="288.49" y1="948.60" x2="291.49" y2="942.60"/><line x1="292.89" y1="948.60" x2="295.89" y2="942.60"/><line x1="327.22" y1="948.60" x2="330.22" y2="942.60"/><line x1="331.62" y1="948.60" x2="334.62" y2="942.60"/><line x1="523.76" y1="948.60" x2="526.76" y2="942.60"/><line x1="528.16" y1="948.60" x2="531.16" y2="942.60"/><line x1="284.57" y1="969.10" x2="287.57" y2="963.10"/><line x1="288.97" y1="969.10" x2="291.97" y2="963.10"/><line x1="348.89" y1="969.10" x2="351.89" y2="963.10"/><line x1="353.29" y1="969.10" x2="356.29" y2="963.10"/><line x1="389.24" y1="969.10" x2="392.24" y2="963.10"/><line x1="393.64" y1="969.10" x2="396.64" y2="963.10"/><line x1="433.04" y1="969.10" x2="436.04" y2="963.10"/><line x1="437.44" y1="969.10" x2="440.44" y2="963.10"/><line x1="537.83" y1="969.10" x2="540.83" y2="963.10"/><line x1="542.23" y1="969.10" x2="545.23" y2="963.10"/><line x1="282.50" y1="989.80" x2="285.50" y2="983.80"/><line x1="286.90" y1="989.80" x2="289.90" y2="983.80"/><line x1="344.97" y1="989.80" x2="347.97" y2="983.80"/><line x1="349.37" y1="989.80" x2="352.37" y2="983.80"/><line x1="384.63" y1="989.80" x2="387.63" y2="983.80"/><line x1="389.03" y1="989.80" x2="392.03" y2="983.80"/><line x1="306.82" y1="1010.60" x2="309.82" y2="1004.60"/><line x1="311.22" y1="1010.60" x2="314.22" y2="1004.60"/><line x1="297.60" y1="1031.30" x2="300.60" y2="1025.30"/><line x1="302.00" y1="1031.30" x2="305.00" y2="1025.30"/><line x1="361.80" y1="1052.10" x2="364.80" y2="1046.10"/><line x1="366.20" y1="1052.10" x2="369.20" y2="1046.10"/><line x1="406.53" y1="1052.10" x2="409.53" y2="1046.10"/><line x1="410.93" y1="1052.10" x2="413.93" y2="1046.10"/><line x1="440.31" y1="1052.10" x2="443.31" y2="1046.10"/><line x1="444.71" y1="1052.10" x2="447.71" y2="1046.10"/><line x1="485.03" y1="1052.10" x2="488.03" y2="1046.10"/><line x1="489.43" y1="1052.10" x2="492.43" y2="1046.10"/><line x1="514.77" y1="1052.10" x2="517.77" y2="1046.10"/><line x1="519.17" y1="1052.10" x2="522.17" y2="1046.10"/><line x1="569.30" y1="1052.10" x2="572.30" y2="1046.10"/><line x1="573.70" y1="1052.10" x2="576.70" y2="1046.10"/><line x1="605.84" y1="1052.10" x2="608.84" y2="1046.10"/><line x1="610.24" y1="1052.10" x2="613.24" y2="1046.10"/><line x1="632.47" y1="1052.10" x2="635.47" y2="1046.10"/><line x1="636.87" y1="1052.10" x2="639.87" y2="1046.10"/><line x1="657.71" y1="1052.10" x2="660.71" y2="1046.10"/><line x1="662.11" y1="1052.10" x2="665.11" y2="1046.10"/><line x1="677.42" y1="1052.10" x2="680.42" y2="1046.10"/><line x1="681.82" y1="1052.10" x2="684.82" y2="1046.10"/><line x1="695.87" y1="1052.10" x2="698.87" y2="1046.10"/><line x1="700.27" y1="1052.10" x2="703.27" y2="1046.10"/><line x1="714.89" y1="1052.10" x2="717.89" y2="1046.10"/><line x1="719.29" y1="1052.10" x2="722.29" y2="1046.10"/><line x1="735.18" y1="1052.10" x2="738.18" y2="1046.10"/><line x1="739.58" y1="1052.10" x2="742.58" y2="1046.10"/><line x1="332.76" y1="1072.80" x2="335.76" y2="1066.80"/><line x1="337.16" y1="1072.80" x2="340.16" y2="1066.80"/><line x1="376.44" y1="1072.80" x2="379.44" y2="1066.80"/><line x1="380.84" y1="1072.80" x2="383.84" y2="1066.80"/><line x1="398.12" y1="1072.80" x2="401.12" y2="1066.80"/><line x1="402.52" y1="1072.80" x2="405.52" y2="1066.80"/><line x1="426.70" y1="1072.80" x2="429.70" y2="1066.80"/><line x1="431.10" y1="1072.80" x2="434.10" y2="1066.80"/><line x1="453.22" y1="1072.80" x2="456.22" y2="1066.80"/><line x1="457.62" y1="1072.80" x2="460.62" y2="1066.80"/><line x1="496.10" y1="1072.80" x2="499.10" y2="1066.80"/><line x1="500.50" y1="1072.80" x2="503.50" y2="1066.80"/><line x1="569.07" y1="1072.80" x2="572.07" y2="1066.80"/><line x1="573.47" y1="1072.80" x2="576.47" y2="1066.80"/><line x1="412.29" y1="1093.60" x2="415.29" y2="1087.60"/><line x1="416.69" y1="1093.60" x2="419.69" y2="1087.60"/><line x1="453.22" y1="1093.60" x2="456.22" y2="1087.60"/><line x1="457.62" y1="1093.60" x2="460.62" y2="1087.60"/><line x1="478.35" y1="1093.60" x2="481.35" y2="1087.60"/><line x1="482.75" y1="1093.60" x2="485.75" y2="1087.60"/><line x1="512.58" y1="1093.60" x2="515.58" y2="1087.60"/><line x1="516.98" y1="1093.60" x2="519.98" y2="1087.60"/><line x1="550.39" y1="1093.60" x2="553.39" y2="1087.60"/><line x1="554.79" y1="1093.60" x2="557.79" y2="1087.60"/><line x1="581.63" y1="1093.60" x2="584.63" y2="1087.60"/><line x1="586.03" y1="1093.60" x2="589.03" y2="1087.60"/><line x1="618.86" y1="1093.60" x2="621.86" y2="1087.60"/><line x1="623.26" y1="1093.60" x2="626.26" y2="1087.60"/><line x1="644.23" y1="1093.60" x2="647.23" y2="1087.60"/><line x1="648.63" y1="1093.60" x2="651.63" y2="1087.60"/><line x1="412.29" y1="1135.30" x2="415.29" y2="1129.30"/><line x1="416.69" y1="1135.30" x2="419.69" y2="1129.30"/><line x1="453.45" y1="1135.30" x2="456.45" y2="1129.30"/><line x1="457.85" y1="1135.30" x2="460.85" y2="1129.30"/><line x1="477.42" y1="1135.30" x2="480.42" y2="1129.30"/><line x1="481.82" y1="1135.30" x2="484.82" y2="1129.30"/><line x1="512.81" y1="1135.30" x2="515.81" y2="1129.30"/><line x1="517.21" y1="1135.30" x2="520.21" y2="1129.30"/><line x1="550.51" y1="1135.30" x2="553.51" y2="1129.30"/><line x1="554.91" y1="1135.30" x2="557.91" y2="1129.30"/><line x1="582.32" y1="1135.30" x2="585.32" y2="1129.30"/><line x1="586.72" y1="1135.30" x2="589.72" y2="1129.30"/><line x1="613.91" y1="1135.30" x2="616.91" y2="1129.30"/><line x1="618.31" y1="1135.30" x2="621.31" y2="1129.30"/><line x1="643.30" y1="1135.30" x2="646.30" y2="1129.30"/><line x1="647.70" y1="1135.30" x2="650.70" y2="1129.30"/><line x1="420.59" y1="1156.00" x2="423.59" y2="1150.00"/><line x1="424.99" y1="1156.00" x2="427.99" y2="1150.00"/><line x1="469.01" y1="1156.00" x2="472.01" y2="1150.00"/><line x1="473.41" y1="1156.00" x2="476.41" y2="1150.00"/><line x1="494.71" y1="1156.00" x2="497.71" y2="1150.00"/><line x1="499.11" y1="1156.00" x2="502.11" y2="1150.00"/><line x1="528.61" y1="1156.00" x2="531.61" y2="1150.00"/><line x1="533.01" y1="1156.00" x2="536.01" y2="1150.00"/><line x1="574.60" y1="1156.00" x2="577.60" y2="1150.00"/><line x1="579.00" y1="1156.00" x2="582.00" y2="1150.00"/><line x1="607.57" y1="1156.00" x2="610.57" y2="1150.00"/><line x1="611.97" y1="1156.00" x2="614.97" y2="1150.00"/><line x1="639.04" y1="1156.00" x2="642.04" y2="1150.00"/><line x1="643.44" y1="1156.00" x2="646.44" y2="1150.00"/><line x1="670.39" y1="1156.00" x2="673.39" y2="1150.00"/><line x1="674.79" y1="1156.00" x2="677.79" y2="1150.00"/><line x1="269.59" y1="1197.50" x2="272.59" y2="1191.50"/><line x1="273.99" y1="1197.50" x2="276.99" y2="1191.50"/><line x1="318.35" y1="1197.50" x2="321.35" y2="1191.50"/><line x1="322.75" y1="1197.50" x2="325.75" y2="1191.50"/><line x1="357.77" y1="1197.50" x2="360.77" y2="1191.50"/><line x1="362.17" y1="1197.50" x2="365.17" y2="1191.50"/><line x1="494.60" y1="1197.50" x2="497.60" y2="1191.50"/><line x1="499.00" y1="1197.50" x2="502.00" y2="1191.50"/><line x1="276.27" y1="1218.30" x2="279.27" y2="1212.30"/><line x1="280.67" y1="1218.30" x2="283.67" y2="1212.30"/><line x1="334.83" y1="1218.30" x2="337.83" y2="1212.30"/><line x1="339.23" y1="1218.30" x2="342.23" y2="1212.30"/><line x1="542.67" y1="1218.30" x2="545.67" y2="1212.30"/><line x1="547.07" y1="1218.30" x2="550.07" y2="1212.30"/><line x1="863.25" y1="1218.30" x2="866.25" y2="1212.30"/><line x1="867.65" y1="1218.30" x2="870.65" y2="1212.30"/><line x1="334.48" y1="1239.00" x2="337.48" y2="1233.00"/><line x1="338.88" y1="1239.00" x2="341.88" y2="1233.00"/><line x1="379.56" y1="1239.00" x2="382.56" y2="1233.00"/><line x1="383.96" y1="1239.00" x2="386.96" y2="1233.00"/><line x1="402.27" y1="1239.00" x2="405.27" y2="1233.00"/><line x1="406.67" y1="1239.00" x2="409.67" y2="1233.00"/><line x1="432.24" y1="1239.00" x2="435.24" y2="1233.00"/><line x1="436.64" y1="1239.00" x2="439.64" y2="1233.00"/><line x1="458.06" y1="1239.00" x2="461.06" y2="1233.00"/><line x1="462.46" y1="1239.00" x2="465.46" y2="1233.00"/><line x1="496.67" y1="1239.00" x2="499.67" y2="1233.00"/><line x1="501.07" y1="1239.00" x2="504.07" y2="1233.00"/><line x1="562.27" y1="1239.00" x2="565.27" y2="1233.00"/><line x1="566.67" y1="1239.00" x2="569.67" y2="1233.00"/><line x1="275.93" y1="1260.00" x2="278.93" y2="1254.00"/><line x1="280.33" y1="1260.00" x2="283.33" y2="1254.00"/><line x1="300.13" y1="1260.00" x2="303.13" y2="1254.00"/><line x1="304.53" y1="1260.00" x2="307.53" y2="1254.00"/><line x1="319.50" y1="1260.00" x2="322.50" y2="1254.00"/><line x1="323.90" y1="1260.00" x2="326.90" y2="1254.00"/><line x1="484.11" y1="1260.00" x2="487.11" y2="1254.00"/><line x1="488.51" y1="1260.00" x2="491.51" y2="1254.00"/><line x1="304.97" y1="1302.20" x2="307.97" y2="1296.20"/><line x1="309.37" y1="1302.20" x2="312.37" y2="1296.20"/><line x1="297.02" y1="1322.90" x2="300.02" y2="1316.90"/><line x1="301.42" y1="1322.90" x2="304.42" y2="1316.90"/><line x1="314.66" y1="1343.70" x2="317.66" y2="1337.70"/><line x1="319.06" y1="1343.70" x2="322.06" y2="1337.70"/><line x1="375.41" y1="1343.70" x2="378.41" y2="1337.70"/><line x1="379.81" y1="1343.70" x2="382.81" y2="1337.70"/><line x1="482.27" y1="1343.70" x2="485.27" y2="1337.70"/><line x1="486.67" y1="1343.70" x2="489.67" y2="1337.70"/><line x1="524.34" y1="1343.70" x2="527.34" y2="1337.70"/><line x1="528.74" y1="1343.70" x2="531.74" y2="1337.70"/><line x1="303.59" y1="1364.40" x2="306.59" y2="1358.40"/><line x1="307.99" y1="1364.40" x2="310.99" y2="1358.40"/><line x1="303.01" y1="1385.20" x2="306.01" y2="1379.20"/><line x1="307.41" y1="1385.20" x2="310.41" y2="1379.20"/></g><g fill="#ff0077"><path d="M258.76,815.40H263.78L266.60,820.70L263.78,826.00H258.76Z"/><path d="M289.88,815.40H294.90L297.72,820.70L294.90,826.00H289.88Z"/><path d="M308.33,815.40H314.82L318.47,820.70L314.82,826.00H308.33Z"/><path d="M326.77,815.40H470.40L481.70,820.70L470.40,826.00H326.77Z"/><path d="M493.46,815.40H566.31L577.61,820.70L566.31,826.00H493.46Z"/><path d="M258.76,836.10H320.54L331.84,841.40L320.54,846.70H258.76Z"/><path d="M344.06,836.10H365.04L376.34,841.40L365.04,846.70H344.06Z"/><path d="M389.48,836.10H396.12L399.86,841.40L396.12,846.70H389.48Z"/><path d="M414.15,836.10H420.83L432.13,841.40L420.83,846.70H414.15Z"/><path d="M445.50,836.10H446.10L456.80,841.40L446.10,846.70H445.50Z"/><path d="M473.17,836.10H485.62L496.92,841.40L485.62,846.70H473.17Z"/><path d="M508.90,836.10H548.56L559.86,841.40L548.56,846.70H508.90Z"/><path d="M574.15,836.10H614.26L625.56,841.40L614.26,846.70H574.15Z"/><path d="M258.76,856.90H345.21L356.51,862.20L345.21,867.50H258.76Z"/><path d="M373.34,856.90H391.32L402.62,862.20L391.32,867.50H373.34Z"/><path d="M424.06,856.90H432.82L444.12,862.20L432.82,867.50H424.06Z"/><path d="M457.95,856.90H478.01L489.31,862.20L478.01,867.50H457.95Z"/><path d="M501.53,856.90H506.83L518.13,862.20L506.83,867.50H501.53Z"/><path d="M529.65,856.90H561.70L573.00,862.20L561.70,867.50H529.65Z"/><path d="M585.68,856.90H593.97L605.27,862.20L593.97,867.50H585.68Z"/><path d="M624.87,856.90H629.74L632.48,862.20L629.74,867.50H624.87Z"/><path d="M642.85,856.90H645.16L656.46,862.20L645.16,867.50H642.85Z"/><path d="M669.37,856.90H682.27L693.57,862.20L682.27,867.50H669.37Z"/><path d="M707.18,856.90H712.04L714.78,862.20L712.04,867.50H707.18Z"/><path d="M728.62,856.90H733.19L735.76,862.20L733.19,867.50H728.62Z"/><path d="M749.60,856.90H756.74L768.04,862.20L756.74,867.50H749.60Z"/><path d="M258.76,877.70H273.28L284.58,883.00L273.28,888.30H258.76Z"/><path d="M298.41,877.70H360.43L371.73,883.00L360.43,888.30H298.41Z"/><path d="M391.79,877.70H538.18L549.48,883.00L538.18,888.30H391.79Z"/><path d="M257.61,898.40H273.74L285.04,903.70L273.74,909.00H257.61Z"/><path d="M375.65,898.40H592.13L603.43,903.70L592.13,909.00H375.65Z"/><path d="M257.61,919.10H263.51L266.83,924.40L263.51,929.70H257.61Z"/><path d="M279.97,919.10H286.17L289.65,924.40L286.17,929.70H279.97Z"/><path d="M301.87,919.10H308.51L312.25,924.40L308.51,929.70H301.87Z"/><path d="M359.51,919.10H421.99L433.29,924.40L421.99,929.70H359.51Z"/><path d="M519.97,919.10H588.90L600.20,924.40L588.90,929.70H519.97Z"/><path d="M613.80,919.10H683.43L694.73,924.40L683.43,929.70H613.80Z"/><path d="M257.61,940.30H263.51L266.83,945.60L263.51,950.90H257.61Z"/><path d="M278.13,940.30H283.44L286.43,945.60L283.44,950.90H278.13Z"/><path d="M297.95,940.30H304.45L308.10,945.60L304.45,950.90H297.95Z"/><path d="M353.75,940.30H497.14L508.44,945.60L497.14,950.90H353.75Z"/><path d="M546.48,940.30H618.18L629.48,945.60L618.18,950.90H546.48Z"/><path d="M257.61,960.80H261.89L264.29,966.10L261.89,971.40H257.61Z"/><path d="M312.25,960.80H334.38L345.68,966.10L334.38,971.40H312.25Z"/><path d="M359.51,960.80H374.72L386.02,966.10L374.72,971.40H359.51Z"/><path d="M399.86,960.80H418.99L430.29,966.10L418.99,971.40H399.86Z"/><path d="M443.20,960.80H524.81L536.11,966.10L524.81,971.40H443.20Z"/><path d="M546.95,960.80H602.04L613.34,966.10L602.04,971.40H546.95Z"/><path d="M257.61,981.50H261.89L264.29,986.80L261.89,992.10H257.61Z"/><path d="M308.10,981.50H330.46L341.76,986.80L330.46,992.10H308.10Z"/><path d="M355.59,981.50H371.26L382.56,986.80L371.26,992.10H355.59Z"/><path d="M394.09,981.50H575.53L586.83,986.80L575.53,992.10H394.09Z"/><path d="M257.61,1002.30H273.28L284.58,1007.60L273.28,1012.90H257.61Z"/><path d="M336.46,1002.30H553.63L564.93,1007.60L553.63,1012.90H336.46Z"/><path d="M257.61,1023.00H273.28L284.58,1028.30L273.28,1033.60H257.61Z"/><path d="M318.01,1023.00H534.72L546.02,1028.30L534.72,1033.60H318.01Z"/><path d="M257.61,1043.80H345.21L356.51,1049.10L345.21,1054.40H257.61Z"/><path d="M374.50,1043.80H392.01L403.31,1049.10L392.01,1054.40H374.50Z"/><path d="M417.15,1043.80H425.44L436.74,1049.10L425.44,1054.40H417.15Z"/><path d="M451.27,1043.80H471.09L482.39,1049.10L471.09,1054.40H451.27Z"/><path d="M495.07,1043.80H500.60L511.90,1049.10L500.60,1054.40H495.07Z"/><path d="M525.04,1043.80H555.24L566.54,1049.10L555.24,1054.40H525.04Z"/><path d="M579.45,1043.80H588.21L599.51,1049.10L588.21,1054.40H579.45Z"/><path d="M619.57,1043.80H625.62L629.02,1049.10L625.62,1054.40H619.57Z"/><path d="M643.31,1043.80H650.99L655.30,1049.10L650.99,1054.40H643.31Z"/><path d="M667.52,1043.80H673.13L676.28,1049.10L673.13,1054.40H667.52Z"/><path d="M685.97,1043.80H690.83L693.57,1049.10L690.83,1054.40H685.97Z"/><path d="M705.56,1043.80H710.43L713.17,1049.10L710.43,1054.40H705.56Z"/><path d="M724.01,1043.80H729.61L732.77,1049.10L729.61,1054.40H724.01Z"/><path d="M744.99,1043.80H754.43L765.73,1049.10L754.43,1054.40H744.99Z"/><path d="M258.07,1064.50H319.39L330.69,1069.80L319.39,1075.10H258.07Z"/><path d="M342.22,1064.50H362.50L373.80,1069.80L362.50,1075.10H342.22Z"/><path d="M386.48,1064.50H392.83L396.40,1069.80L392.83,1075.10H386.48Z"/><path d="M407.23,1064.50H412.76L424.06,1069.80L412.76,1075.10H407.23Z"/><path d="M436.74,1064.50H437.34L448.27,1069.80L437.34,1075.10H436.74Z"/><path d="M465.56,1064.50H478.01L489.31,1069.80L478.01,1075.10H465.56Z"/><path d="M510.29,1064.50H550.17L561.47,1069.80L550.17,1075.10H510.29Z"/><path d="M584.06,1064.50H625.10L636.40,1069.80L625.10,1075.10H584.06Z"/><path d="M258.07,1085.30H398.24L409.54,1090.60L398.24,1095.90H258.07Z"/><path d="M422.45,1085.30H439.28L450.58,1090.60L439.28,1095.90H422.45Z"/><path d="M463.26,1085.30H471.08L475.48,1090.60L471.08,1095.90H463.26Z"/><path d="M488.62,1085.30H498.30L509.60,1090.60L498.30,1095.90H488.62Z"/><path d="M522.97,1085.30H535.88L547.18,1090.60L535.88,1095.90H522.97Z"/><path d="M561.01,1085.30H567.46L578.76,1090.60L567.46,1095.90H561.01Z"/><path d="M591.90,1085.30H598.58L609.88,1090.60L598.58,1095.90H591.90Z"/><path d="M635.24,1085.30H639.67L642.16,1090.60L639.67,1095.90H635.24Z"/><path d="M653.69,1085.30H662.45L673.75,1090.60L662.45,1095.90H653.69Z"/><path d="M258.76,1106.20H468.09L479.39,1111.50L468.09,1116.80H258.76Z"/><path d="M258.76,1127.00H398.24L409.54,1132.30L398.24,1137.60H258.76Z"/><path d="M422.45,1127.00H439.74L451.04,1132.30L439.74,1137.60H422.45Z"/><path d="M463.26,1127.00H470.63L474.78,1132.30L470.63,1137.60H463.26Z"/><path d="M487.46,1127.00H498.99L510.29,1132.30L498.99,1137.60H487.46Z"/><path d="M522.74,1127.00H535.65L546.95,1132.30L535.65,1137.60H522.74Z"/><path d="M561.47,1127.00H568.15L579.45,1132.30L568.15,1137.60H561.47Z"/><path d="M592.59,1127.00H599.74L611.04,1132.30L599.74,1137.60H592.59Z"/><path d="M624.18,1127.00H628.56L639.86,1132.30L628.56,1137.60H624.18Z"/><path d="M654.15,1127.00H663.14L674.44,1132.30L663.14,1137.60H654.15Z"/><path d="M258.76,1147.70H399.39L410.69,1153.00L399.39,1158.30H258.76Z"/><path d="M437.90,1147.70H453.57L464.87,1153.00L453.57,1158.30H437.90Z"/><path d="M480.55,1147.70H487.78L491.84,1153.00L487.78,1158.30H480.55Z"/><path d="M504.99,1147.70H507.52L518.82,1153.00L507.52,1158.30H504.99Z"/><path d="M545.79,1147.70H558.93L570.23,1153.00L558.93,1158.30H545.79Z"/><path d="M586.37,1147.70H593.28L604.58,1153.00L593.28,1158.30H586.37Z"/><path d="M617.95,1147.70H622.79L634.09,1153.00L622.79,1158.30H617.95Z"/><path d="M651.38,1147.70H655.07L666.37,1153.00L655.07,1158.30H651.38Z"/><path d="M681.82,1147.70H682.42L694.03,1153.00L682.42,1158.30H681.82Z"/><path d="M258.76,1168.50H501.06L512.36,1173.80L501.06,1179.10H258.76Z"/><path d="M258.76,1189.20H262.30L264.29,1194.50L262.30,1199.80H258.76Z"/><path d="M282.28,1189.20H304.87L316.17,1194.50L304.87,1199.80H282.28Z"/><path d="M327.93,1189.20H343.60L354.90,1194.50L343.60,1199.80H327.93Z"/><path d="M368.04,1189.20H481.01L492.31,1194.50L481.01,1199.80H368.04Z"/><path d="M504.29,1189.20H558.93L570.23,1194.50L558.93,1199.80H504.29Z"/><path d="M257.61,1210.00H260.85L262.68,1215.30L260.85,1220.60H257.61Z"/><path d="M297.26,1210.00H320.54L331.84,1215.30L320.54,1220.60H297.26Z"/><path d="M345.22,1210.00H360.89L372.19,1215.30L360.89,1220.60H345.22Z"/><path d="M720.55,1210.00H834.67L845.97,1215.30L834.67,1220.60H720.55Z"/><path d="M887.93,1210.00H942.33L953.63,1215.30L942.33,1220.60H887.93Z"/><path d="M257.61,1230.70H320.54L331.84,1236.00L320.54,1241.30H257.61Z"/><path d="M344.52,1230.70H365.04L376.34,1236.00L365.04,1241.30H344.52Z"/><path d="M390.17,1230.70H396.37L399.86,1236.00L396.37,1241.30H390.17Z"/><path d="M412.07,1230.70H418.07L429.37,1236.00L418.07,1241.30H412.07Z"/><path d="M442.51,1230.70H443.11L454.03,1236.00L443.11,1241.30H442.51Z"/><path d="M469.48,1230.70H481.01L492.31,1236.00L481.01,1241.30H469.48Z"/><path d="M508.44,1230.70H548.33L559.63,1236.00L548.33,1241.30H508.44Z"/><path d="M572.31,1230.70H614.26L625.56,1236.00L614.26,1241.30H572.31Z"/><path d="M257.61,1251.70H263.36L266.60,1257.00L263.36,1262.30H257.61Z"/><path d="M292.65,1251.70H296.34L298.41,1257.00L296.34,1262.30H292.65Z"/><path d="M309.25,1251.70H315.30L318.70,1257.00L315.30,1262.30H309.25Z"/><path d="M327.69,1251.70H471.55L482.85,1257.00L471.55,1262.30H327.69Z"/><path d="M492.77,1251.70H565.16L576.46,1257.00L565.16,1262.30H492.77Z"/><path d="M257.61,1272.40H502.22L513.52,1277.70L502.22,1283.00H257.61Z"/><path d="M257.61,1293.90H273.74L285.04,1299.20L273.74,1304.50H257.61Z"/><path d="M332.31,1293.90H547.40L558.70,1299.20L547.40,1304.50H332.31Z"/><path d="M257.61,1314.60H273.74L285.04,1319.90L273.74,1325.20H257.61Z"/><path d="M316.40,1314.60H531.73L543.03,1319.90L531.73,1325.20H316.40Z"/><path d="M257.61,1335.40H279.74L291.04,1340.70L279.74,1346.00H257.61Z"/><path d="M345.68,1335.40H360.89L372.19,1340.70L360.89,1346.00H345.68Z"/><path d="M386.02,1335.40H468.79L480.09,1340.70L468.79,1346.00H386.02Z"/><path d="M491.84,1335.40H509.82L521.12,1340.70L509.82,1346.00H491.84Z"/><path d="M534.96,1335.40H585.90L597.20,1340.70L585.90,1346.00H534.96Z"/><path d="M257.61,1356.10H273.74L285.04,1361.40L273.74,1366.70H257.61Z"/><path d="M329.54,1356.10H544.87L556.17,1361.40L544.87,1366.70H329.54Z"/><path d="M257.61,1376.90H273.74L285.04,1382.20L273.74,1387.50H257.61Z"/><path d="M328.39,1376.90H543.94L555.24,1382.20L543.94,1387.50H328.39Z"/></g><g font-family="Liberation Sans" font-weight="bold" font-style="italic" font-size="14.85" fill="#111"><text x="133.7" y="823.9">B.rapaHSP70-20</text><text x="133.7" y="843.3">B.rapaHSP70-19</text><text x="133.7" y="867.5">B.rapaHSP70-28</text><text x="132.7" y="889.8">B.rapaHSP70-8</text><text x="131.7" y="908.9">B.rapaHSP70-1</text><text x="131.3" y="930.6">B.rapaHSP70- 16</text><text x="131.7" y="951.6">B.rapaHSP70- 17</text><text x="127.8" y="972.7">B.rapaHSP70-13</text><text x="126.8" y="993.8">B.rapaHSP70-12</text><text x="127.4" y="1014.1">B.rapaHSP70-2</text><text x="126.8" y="1035.8">B.rapaHSP70-6</text><text x="127.4" y="1055.6">B.rapaHSP70-27</text><text x="128.2" y="1074.3">B.rapaHSP70-21</text><text x="129.7" y="1097.0">B.rapaHSP70-24</text><text x="126.8" y="1117.6">B.rapaHSP70-25</text><text x="124.2" y="1138.9">B.rapaHSP70-23</text><text x="124.8" y="1160.1">B.rapaHSP70-26</text><text x="125.8" y="1182.4">B.rapaHSP70-10</text><text x="124.2" y="1204.9">B.rapaHSP70-11</text><text x="128.2" y="1223.2">B.rapaHSP70-14</text><text x="126.8" y="1243.0">B.rapaHSP70-22</text><text x="126.8" y="1258.7">B.rapaHSP70-18</text><text x="125.8" y="1279.5">B.rapaHSP70-9</text><text x="126.8" y="1301.6">B.rapaHSP70-3</text><text x="126.8" y="1324.9">B.rapaHSP70-7</text><text x="126.8" y="1346.6">B.rapaHSP70-15</text><text x="125.8" y="1366.3">B.rapaHSP70-5</text><text x="123.8" y="1389.0">B.rapaHSP70-4</text></g><line x1="257.8" y1="1402.8" x2="953.5" y2="1402.8" stroke="#666" stroke-width="1.8"/><g font-family="Liberation Serif" font-size="10.5" fill="#222"><line x1="257.8" y1="1398.3" x2="257.8" y2="1402.5" stroke="#555" stroke-width="1.1"/><text transform="translate(259.8,1413.5) scale(0.8,1)" text-anchor="middle">0kb</text><line x1="389.4" y1="1398.3" x2="389.4" y2="1402.5" stroke="#555" stroke-width="1.1"/><text transform="translate(391.4,1413.5) scale(0.8,1)" text-anchor="middle">1kb</text><line x1="521.0" y1="1398.3" x2="521.0" y2="1402.5" stroke="#555" stroke-width="1.1"/><text transform="translate(523.0,1413.5) scale(0.8,1)" text-anchor="middle">2kb</text><line x1="652.6" y1="1398.3" x2="652.6" y2="1402.5" stroke="#555" stroke-width="1.1"/><text transform="translate(654.6,1413.5) scale(0.8,1)" text-anchor="middle">3kb</text><line x1="784.2" y1="1398.3" x2="784.2" y2="1402.5" stroke="#555" stroke-width="1.1"/><text transform="translate(786.2,1413.5) scale(0.8,1)" text-anchor="middle">4kb</text><line x1="915.8" y1="1398.3" x2="915.8" y2="1402.5" stroke="#555" stroke-width="1.1"/><text transform="translate(917.8,1413.5) scale(0.8,1)" text-anchor="middle">5kb</text></g><text transform="translate(246.5,1397.5) scale(0.8,1)" font-family="Liberation Serif" font-size="10.5" fill="#222">5'</text><text transform="translate(959.5,1397.5) scale(0.8,1)" font-family="Liberation Serif" font-size="10.5" fill="#222">3'</text><text x="142" y="1438.8" font-family="Liberation Serif" font-size="14" fill="#222" transform="translate(142,0) scale(0.95,1) translate(-142,0)">Legend:</text><path d="M142,1450H150.3L158.8,1455.2L150.3,1460.5H142Z" fill="#ff0077"/><text x="163.6" y="1460" font-family="Liberation Serif" font-size="10" fill="#222">Exon</text><line x1="202" y1="1455.2" x2="219.4" y2="1455.2" stroke="#6b6bff" stroke-width="1.6"/><g stroke="#3a3af0" stroke-width="1.2"><line x1="207.00" y1="1458.20" x2="210.00" y2="1452.20"/><line x1="211.40" y1="1458.20" x2="214.40" y2="1452.20"/></g><text x="223.7" y="1460" font-family="Liberation Serif" font-size="10" fill="#222">Intron</text>
<text x="533" y="1507" font-family="Liberation Serif" font-size="24" fill="#000">(<tspan font-weight="bold">B</tspan>)</text>
</svg>
</body></html>
